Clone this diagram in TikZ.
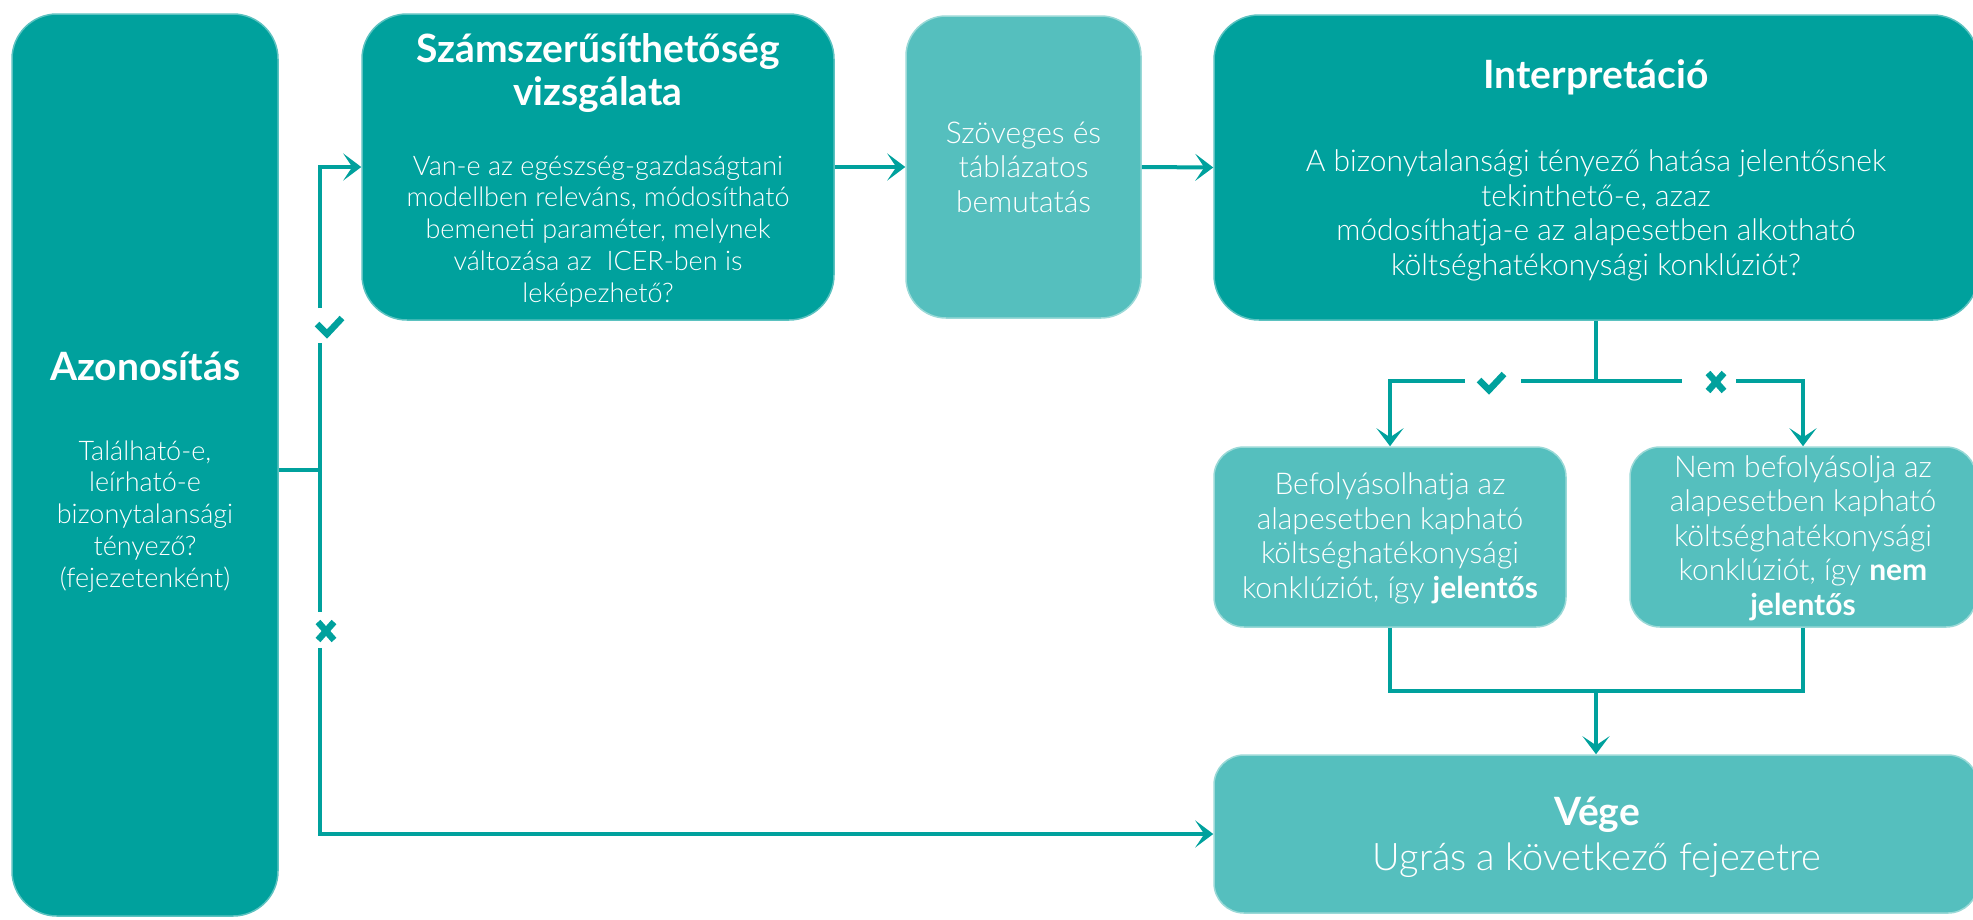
\documentclass[tikz,border=0pt]{standalone}
\usepackage{fontspec}
\IfFontExistsTF{Lato Light}{%
  \setmainfont{Lato Light}[BoldFont={Lato Bold}]%
}{%
  \IfFontExistsTF{Open Sans Light}{%
    \setmainfont{Open Sans Light}[BoldFont={Open Sans Bold}]%
  }{%
    \setmainfont{Fira Sans}%
  }%
}
\usetikzlibrary{arrows.meta}
\definecolor{tealD}{HTML}{00A19D}
\definecolor{tealL}{HTML}{55BFBE}
\definecolor{edgeD}{HTML}{5BC2C0}
\definecolor{edgeL}{HTML}{9AD9D7}
\tikzset{
  dbox/.style={rectangle, rounded corners=#1, fill=tealD, draw=edgeD, line width=1.5pt, inner sep=0pt},
  lbox/.style={rectangle, rounded corners=#1, fill=tealL, draw=edgeL, line width=1.5pt, inner sep=0pt},
  conn/.style={draw=tealD, line width=4pt},
  arr/.style={conn, -{Stealth[length=18pt, width=27pt, inset=9pt]}},
  ttl/.style={text=white, font=\fontsize{39}{43}\selectfont\bfseries, align=center, inner sep=0pt, anchor=base},
  bodyA/.style={text=white, font=\fontsize{27}{31.75}\selectfont, align=center, inner sep=0pt, anchor=base},
  bodyB/.style={text=white, font=\fontsize{30}{34.5}\selectfont, align=center, inner sep=0pt, anchor=base},
  bodyC/.style={text=white, font=\fontsize{38}{40}\selectfont, align=center, inner sep=0pt, anchor=base},
  markstroke/.style={draw=tealD, line width=6.5pt}
}
\begin{document}
\begin{tikzpicture}[x=1pt, y=-1pt]
\useasboundingbox (0,0) rectangle (1973,919);
% boxes
\node[dbox=45pt, minimum width=266pt, minimum height=902pt] (azon) at (145,465) {};
\node[dbox=45pt, minimum width=472pt, minimum height=306pt] (szam) at (598,167) {};
\node[lbox=40pt, minimum width=235pt, minimum height=302pt] (szov) at (1023.5,167) {};
\node[dbox=45pt, minimum width=764pt, minimum height=305pt] (interp) at (1596,167.5) {};
\node[lbox=30pt, minimum width=352pt, minimum height=180pt] (befoly) at (1390,537) {};
\node[lbox=30pt, minimum width=346pt, minimum height=180pt] (nem) at (1803,537) {};
\node[lbox=30pt, minimum width=764pt, minimum height=158pt] (vege) at (1596,834) {};
% texts (anchor base = last line baseline)
\node[ttl] (azT) at (145,380) {Azonosítás};
\node[bodyA] (azB) at (145,587) {Található-e,\\leírható-e\\bizonytalansági\\tényező?\\(fejezetenként)};
\node[ttl] (szT) at (598,105) {Számszerűsíthetőség\\vizsgálata};
\node[bodyA] (szB) at (598,302) {Van-e az egészség-gazdaságtani\\modellben releváns, módosítható\\bemeneti paraméter, melynek\\változása az\ \ ICER-ben is\\leképezhető?};
\node[bodyB] (szovB) at (1023.5,212) {Szöveges és\\táblázatos\\bemutatás};
\node[ttl] (inT) at (1596,88) {Interpretáció};
\node[bodyB] (inB) at (1596,275) {A bizonytalansági tényező hatása jelentősnek\\tekinthető-e, azaz\\módosíthatja-e az alapesetben alkotható\\költséghatékonysági konklúziót?};
\node[bodyB] (bfB) at (1390,598) {Befolyásolhatja az\\alapesetben kapható\\költséghatékonysági\\konklúziót, így \textbf{jelentős}};
\node[bodyB] (nmB) at (1803,615) {Nem befolyásolja az\\alapesetben kapható\\költséghatékonysági\\konklúziót, így \textbf{nem}\\\textbf{jelentős}};
\node[ttl] (vgT) at (1597,825) {Vége};
\node[bodyC] (vgB) at (1597,870) {Ugrás a következő fejezetre};
% yes / no marks
\draw[markstroke, shift={(329,326)}] (-12,-2) -- (-2,8) -- (13,-8);
\draw[markstroke, shift={(326,631)}] (-8,-9) -- (8,9) (-8,9) -- (8,-9);
\draw[markstroke, shift={(1491,382)}] (-12,-2) -- (-2,8) -- (13,-8);
\draw[markstroke, shift={(1716,382)}] (-8,-9) -- (8,9) (-8,9) -- (8,-9);
% coordinates
\coordinate (j1) at (320,470);
\coordinate (c1a) at (320,343);
\coordinate (c1b) at (320,308);
\coordinate (x1a) at (320,648);
\coordinate (x1b) at (320,612);
\coordinate (j2) at (1596,381);
\coordinate (c2r) at (1521,381);
\coordinate (c2l) at (1465,381);
\coordinate (x2l) at (1682,381);
\coordinate (x2r) at (1736,381);
\coordinate (j3) at (1596,691);
% connectors
\draw[conn] (azon.east |- j1) -- (j1) -- (x1b);
\draw[conn] (j1) -- (c1a);
\draw[arr] (c1b) |- (szam.west);
\draw[arr] (x1a) |- (vege.west);
\draw[arr] (szam.east) -- (szov.west);
\draw[arr] (szov.east) -- (interp.west);
\draw[conn] (interp.south) -- (j2) -- (c2r);
\draw[arr] (c2l) -| (befoly.north);
\draw[conn] (j2) -- (x2l);
\draw[arr] (x2r) -| (nem.north);
\draw[conn] (befoly.south) |- (j3);
\draw[conn] (nem.south) |- (j3);
\draw[arr] (j3) -- (vege.north);
\end{tikzpicture}
\end{document}
